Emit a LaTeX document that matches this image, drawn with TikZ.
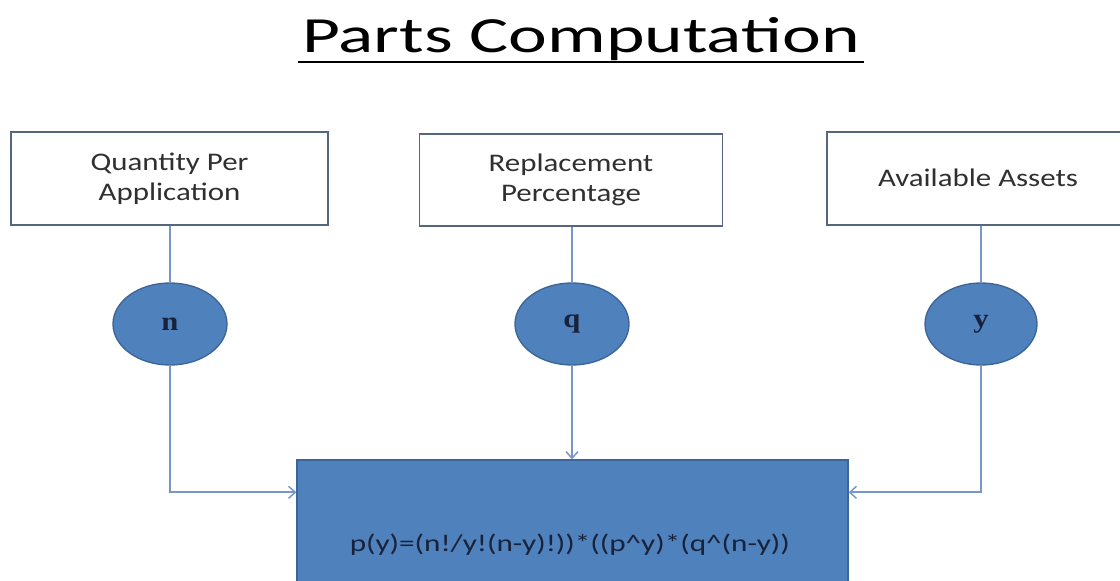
\documentclass[tikz,border=0pt]{standalone}
\usepackage{fontspec}
\setmainfont{Carlito}
\newfontfamily\widefont{Carlito}[FakeStretch=1.22]
\newfontfamily\formulafont{Carlito}[FakeStretch=1.3]
\newfontfamily\titlefont{Carlito}[FakeStretch=1.45]
\newfontfamily\varfont{Liberation Serif}[FakeStretch=1.15]
\usetikzlibrary{arrows.meta,shapes.geometric}

\definecolor{fillblue}{HTML}{4F81BD}
\definecolor{edgeblue}{HTML}{3C6597}
\definecolor{wireblue}{HTML}{7896CB}
\definecolor{boxedge}{HTML}{55667F}
\definecolor{labeltext}{HTML}{303030}
\definecolor{formulatext}{HTML}{18223A}

\tikzset{
  inbox/.style={draw=boxedge, line width=1.1pt, fill=white, align=center,
    inner sep=0pt, text=labeltext, font=\widefont\fontsize{19}{22.5}\selectfont},
  varnode/.style={ellipse, draw=edgeblue, line width=1pt, fill=fillblue,
    inner sep=0pt, minimum width=85.5pt, minimum height=61.5pt,
    text=formulatext, font=\varfont\bfseries\fontsize{20}{22}\selectfont},
  wire/.style={draw=wireblue, line width=1.6pt},
  arr/.style={wire, -{Straight Barb[length=5pt,width=9pt,line width=1.1pt]}},
}

\begin{document}
\begin{tikzpicture}[x=0.75pt, y=-0.75pt]
\useasboundingbox (0,0) rectangle (1120,581);
\clip (0,0) rectangle (1120,581);
\fill[white] (0,0) rectangle (1120,581);

% title with underline
\node[anchor=base, inner sep=0pt, font=\titlefont\fontsize{38}{44}\selectfont, text=black]
  (title) at (581,53) {Parts Computation};
\draw[line width=2.2pt, black] ([yshift=-6.75pt,xshift=-3pt]title.base west)
  -- ([yshift=-6.75pt,xshift=3pt]title.base east);

% input boxes
\node[inbox, minimum width=237.75pt, minimum height=69.75pt] (qty) at (169.5,178.5)
  {Quantity Per\\Application};
\node[inbox, minimum width=227.25pt, minimum height=69pt] (rep) at (571,180)
  {Replacement\\Percentage};
\node[inbox, minimum width=223.5pt, minimum height=69.75pt] (avl) at (976,178.5) {};
\node[inbox, draw=none, fill=none, anchor=center] (avltext) at (978,178) {Available Assets};

% variables
\node[varnode] (n) at (170,324) {n};
\node[varnode] (q) at (572,324) {q};
\node[varnode, minimum width=84pt] (y) at (981,324) {y};

% computation block
\node[draw=edgeblue, line width=1pt, fill=fillblue, minimum width=413.25pt,
  minimum height=127.5pt, inner sep=0pt, text=formulatext,
  font=\formulafont\fontsize{18}{20}\selectfont] (calc) at (572.5,545)
  {\hspace*{-4pt}p(y)=(n!/y!(n-y)!))*((p\^{}y)*(q\^{}(n-y))};

\coordinate (inL) at ([yshift=-24.75pt]calc.north west);
\coordinate (inR) at ([yshift=-24.75pt]calc.north east);

% connectors
\draw[wire] (qty.south -| n) -- (n.north);
\draw[wire] (rep.south -| q) -- (q.north);
\draw[wire] (avl.south -| y) -- (y.north);
\draw[arr] (n.south) |- (inL);
\draw[arr] (q.south) -- (q.south |- calc.north);
\draw[arr] (y.south) |- (inR);
\end{tikzpicture}
\end{document}
